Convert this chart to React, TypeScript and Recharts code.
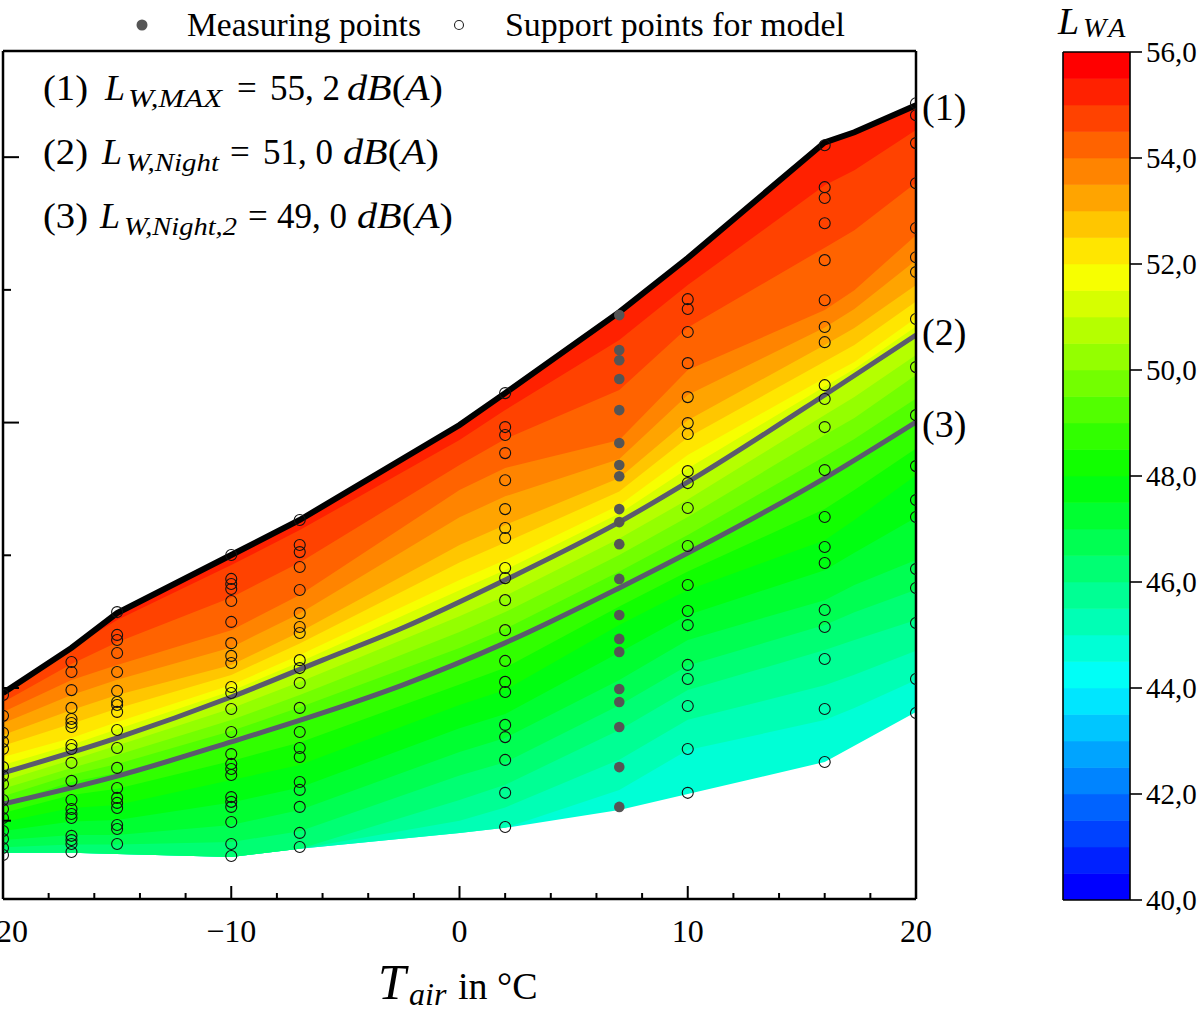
import React from 'react';
import { ComposedChart, Area, Line, Scatter, XAxis, YAxis } from 'recharts';

const FONT = "'Liberation Serif', 'Times New Roman', serif";

// ---- grid of outside temperatures used for the contour field ----
const temps = [-20, -17, -15, -10, -7, 0, 2, 7, 10, 16, 17.3, 20];
const topLimit = [0.981, 1.151, 1.282, 1.501, 1.633, 1.991, 2.111, 2.416, 2.62, 3.056, 3.094, 3.196];
const bottomLimit = [0.379, 0.379, 0.375, 0.363, 0.394, 0.454, 0.473, 0.54, 0.601, 0.721, 0.782, 0.91];
// iso-lines of L_WA in dB(A), read column by column
const iso45 = [0.379, 0.379, 0.375, 0.363, 0.394, 0.454, 0.473, 0.616, 0.766, 0.879, 0.925, 1.03];
const iso45h = [0.379, 0.379, 0.375, 0.363, 0.394, 0.5, 0.55, 0.73, 0.88, 1.01, 1.05, 1.14];
const iso46 = [0.379, 0.379, 0.375, 0.363, 0.394, 0.578, 0.635, 0.842, 0.992, 1.143, 1.181, 1.256];
const iso46h = [0.4, 0.41, 0.41, 0.42, 0.46, 0.67, 0.72, 0.935, 1.085, 1.237, 1.285, 1.37];
const iso47 = [0.427, 0.446, 0.446, 0.484, 0.54, 0.759, 0.812, 1.03, 1.181, 1.331, 1.388, 1.482];
const iso47h = [0.461, 0.497, 0.503, 0.569, 0.625, 0.848, 0.902, 1.134, 1.275, 1.444, 1.51, 1.642];
const iso48 = [0.495, 0.548, 0.559, 0.653, 0.71, 0.936, 0.992, 1.237, 1.369, 1.557, 1.633, 1.802];
const iso48h = [0.529, 0.597, 0.62, 0.725, 0.795, 1.013, 1.076, 1.307, 1.439, 1.674, 1.746, 1.902];
const iso49 = [0.563, 0.646, 0.68, 0.797, 0.879, 1.09, 1.16, 1.377, 1.508, 1.791, 1.859, 2.002];
const iso49h = [0.592, 0.673, 0.714, 0.838, 0.927, 1.151, 1.223, 1.439, 1.576, 1.872, 1.938, 2.091];
const iso50 = [0.62, 0.699, 0.748, 0.879, 0.974, 1.211, 1.286, 1.501, 1.644, 1.953, 2.017, 2.179];
const iso50h = [0.65, 0.729, 0.783, 0.923, 1.023, 1.27, 1.347, 1.563, 1.71, 2.029, 2.096, 2.255];
const iso51 = [0.68, 0.759, 0.818, 0.966, 1.072, 1.328, 1.407, 1.625, 1.776, 2.104, 2.175, 2.33];
const iso51h = [0.71, 0.786, 0.845, 0.989, 1.098, 1.368, 1.445, 1.657, 1.827, 2.136, 2.202, 2.362];
const iso52 = [0.74, 0.812, 0.872, 1.011, 1.124, 1.407, 1.482, 1.689, 1.878, 2.168, 2.228, 2.394];
const iso52h = [0.782, 0.865, 0.923, 1.049, 1.168, 1.473, 1.548, 1.74, 1.944, 2.23, 2.292, 2.456];
const iso53 = [0.823, 0.917, 0.974, 1.087, 1.211, 1.539, 1.614, 1.791, 2.009, 2.292, 2.356, 2.518];
const iso53h = [0.867, 0.974, 1.031, 1.153, 1.281, 1.643, 1.722, 1.863, 2.104, 2.358, 2.428, 2.612];
const iso54 = [0.91, 1.03, 1.087, 1.218, 1.35, 1.746, 1.829, 1.934, 2.198, 2.424, 2.499, 2.706];
const iso54h = [0.946, 1.09, 1.172, 1.341, 1.473, 1.84, 1.938, 2.123, 2.358, 2.659, 2.725, 2.904];
const iso55 = [0.981, 1.151, 1.256, 1.463, 1.595, 1.934, 2.047, 2.311, 2.518, 2.894, 2.951, 3.102];
const isoLevels = [45, 45.5, 46, 46.5, 47, 47.5, 48, 48.5, 49, 49.5, 50, 50.5, 51, 51.5, 52, 52.5, 53, 53.5, 54, 54.5, 55];
const isoLines = [iso45, iso45h, iso46, iso46h, iso47, iso47h, iso48, iso48h, iso49, iso49h, iso50, iso50h, iso51, iso51h, iso52, iso52h, iso53, iso53h, iso54, iso54h, iso55];

// ---- model curves (2) and (3) ----
const curveTemps = [-20, -15, -10, -6, -2.5, 2, 7, 10.5, 16, 20];
const nightCurve = [0.68, 0.812, 0.966, 1.105, 1.226, 1.407, 1.625, 1.802, 2.104, 2.33];
const night2Curve = [0.563, 0.668, 0.797, 0.906, 1.011, 1.17, 1.377, 1.531, 1.791, 2.002];

// ---- points ----
const supportM20 = [0.974, 0.895, 0.831, 0.797, 0.77, 0.702, 0.669, 0.638, 0.578, 0.544, 0.51, 0.461, 0.431, 0.397, 0.371];
const supportM17 = [1.098, 1.06, 0.992, 0.925, 0.883, 0.868, 0.853, 0.785, 0.77, 0.718, 0.65, 0.578, 0.544, 0.525, 0.51, 0.443, 0.427, 0.412, 0.382];
const supportM15 = [1.286, 1.2, 1.181, 1.132, 1.06, 0.989, 0.947, 0.936, 0.91, 0.842, 0.774, 0.699, 0.623, 0.586, 0.567, 0.548, 0.484, 0.469, 0.412];
const supportM10 = [1.501, 1.411, 1.392, 1.373, 1.328, 1.249, 1.169, 1.121, 1.094, 1.004, 0.981, 0.921, 0.834, 0.751, 0.714, 0.695, 0.672, 0.589, 0.571, 0.552, 0.495, 0.412, 0.367];
const supportM7 = [1.633, 1.539, 1.512, 1.456, 1.369, 1.282, 1.23, 1.207, 1.105, 1.075, 1.019, 0.925, 0.834, 0.774, 0.74, 0.646, 0.616, 0.552, 0.454, 0.401];
const supportP2 = [2.111, 1.983, 1.953, 1.885, 1.783, 1.674, 1.603, 1.565, 1.452, 1.414, 1.331, 1.218, 1.102, 1.023, 0.985, 0.861, 0.815, 0.729, 0.605, 0.476];
const supportP10 = [2.465, 2.428, 2.341, 2.224, 2.096, 1.998, 1.957, 1.817, 1.772, 1.678, 1.535, 1.388, 1.29, 1.237, 1.087, 1.034, 0.932, 0.77, 0.605];
const supportP16 = [3.045, 2.887, 2.846, 2.751, 2.612, 2.461, 2.36, 2.303, 2.141, 2.089, 1.983, 1.821, 1.644, 1.531, 1.471, 1.294, 1.23, 1.109, 0.921, 0.721];
const supportP20 = [3.203, 3.158, 3.053, 2.902, 2.733, 2.623, 2.567, 2.39, 2.209, 2.028, 1.836, 1.708, 1.644, 1.448, 1.377, 1.245, 1.034, 0.906];
const supportTemps = [-20, -17, -15, -10, -7, 2, 10, 16, 20];
const supportColumns = [supportM20, supportM17, supportM15, supportM10, supportM7, supportP2, supportP10, supportP16, supportP20];
const measuredTemp = 7;
const measured7 = [2.405, 2.273, 2.235, 2.164, 2.047, 1.923, 1.84, 1.798, 1.674, 1.625, 1.542, 1.411, 1.275, 1.185, 1.136, 0.996, 0.947, 0.853, 0.702, 0.552];

// ---- axes ----
const xTicks = [-20, -18, -16, -14, -12, -10, -8, -6, -4, -2, 0, 2, 4, 6, 8, 10, 12, 14, 16, 18, 20];
const yTicks = [0.5, 1, 1.5, 2, 2.5, 3];
const yDomain = [0.205, 3.4];

// ---- colour bar ----
const barSteps = [40, 40.5, 41, 41.5, 42, 42.5, 43, 43.5, 44, 44.5, 45, 45.5, 46, 46.5, 47, 47.5, 48, 48.5, 49, 49.5, 50, 50.5, 51, 51.5, 52, 52.5, 53, 53.5, 54, 54.5, 55, 55.5];
const barTicks = [40, 42, 44, 46, 48, 50, 52, 54, 56];
const barFrame = [{ x: 0 }, { x: 1 }];

const colorFor = (db: number) => {
  const h = Math.max(0, Math.min(240, 240 * (1 - (db - 40.25) / 15.5)));
  return `hsl(${h.toFixed(1)}, 100%, 50%)`;
};

const rows = temps.map((T, i) => {
  const r: any = { T, top: topLimit[i], bottom: bottomLimit[i] };
  isoLevels.forEach((L, k) => {
    r['l' + L] = isoLines[k][i];
  });
  return r;
});
const nightRows = curveTemps.map((T, i) => ({ T, v: nightCurve[i] }));
const night2Rows = curveTemps.map((T, i) => ({ T, v: night2Curve[i] }));
const supportPoints = supportTemps.flatMap((T, c) => supportColumns[c].map((v) => ({ T, v })));
const measuredPoints = measured7.map((v) => ({ T: measuredTemp, v }));

const fmtMinus = (v: number) => (v < 0 ? `\u2212${-v}` : `${v}`);

const XTick = (props: any) => {
  const { x, y, payload } = props;
  const v = payload.value;
  const major = v % 10 === 0;
  return (
    <g>
      <line x1={x} x2={x} y1={y} y2={y - (major ? 13 : 6)} stroke="#000" strokeWidth={2} />
      {major && (
        <text x={x} y={y + 43} textAnchor="middle" fontSize={32} fontFamily={FONT} fill="#000">
          {fmtMinus(v)}
        </text>
      )}
    </g>
  );
};

const YTick = (props: any) => {
  const { x, y, payload } = props;
  const major = Number.isInteger(payload.value);
  return <line x1={x} x2={x + (major ? 16 : 8)} y1={y} y2={y} stroke="#000" strokeWidth={2} />;
};

const OpenCircle = (p: any) => {
  const r = 5.5;
  if (p.payload && p.payload.T >= 20) {
    // the plot frame hides the outer half of the boundary column
    return <path d={`M${p.cx},${p.cy - r} A${r},${r} 0 0 0 ${p.cx},${p.cy + r}`} fill="none" stroke="#111" strokeWidth={1.1} />;
  }
  return <circle cx={p.cx} cy={p.cy} r={r} fill="none" stroke="#111" strokeWidth={1.1} />;
};
const FilledCircle = (p: any) => <circle cx={p.cx} cy={p.cy} r={5.3} fill="#555555" stroke="none" />;

const T = (props: any) => <text fontFamily={FONT} fill="#000" fontSize={35} {...props} />;

const MathRow = ({ y, num, lx, sub, subX, subW, eqX, val, valX, unitX }: any) => (
  <g>
    <T x={43} y={y} textLength={45} lengthAdjust="spacingAndGlyphs">{num}</T>
    <T x={lx} y={y} fontStyle="italic" fontSize={36}>L</T>
    <T x={subX} y={y + 7} fontStyle="italic" fontSize={26} textLength={subW} lengthAdjust="spacingAndGlyphs">{sub}</T>
    <T x={eqX} y={y}>=</T>
    <T x={valX} y={y} textLength={70} lengthAdjust="spacingAndGlyphs">{val}</T>
    <T x={unitX} y={y} textLength={96} lengthAdjust="spacingAndGlyphs">
      <tspan fontStyle="italic">dB</tspan>
      <tspan>(</tspan>
      <tspan fontStyle="italic">A</tspan>
      <tspan>)</tspan>
    </T>
  </g>
);

export default function App() {
  return (
    <div style={{ position: 'absolute', left: 0, top: 0, width: 1200, height: 1013, overflow: 'hidden', background: '#fff' }}>
      <div style={{ position: 'absolute', left: 0, top: 0 }}>
        <ComposedChart width={1200} height={1013} margin={{ top: 50, right: 283, bottom: 54, left: 2 }}>
          <Area
            data={rows}
            dataKey={(r: any) => [r.bottom, r.top]}
            type="linear"
            stroke="none"
            fill={colorFor(44.75)}
            fillOpacity={1}
            isAnimationActive={false}
            dot={false}
            activeDot={false}
          />
          {isoLevels.map((L) => (
            <Area
              key={L}
              data={rows}
              dataKey={(r: any) => [r['l' + L], r.top]}
              type="linear"
              stroke="none"
              fill={colorFor(L + 0.25)}
              fillOpacity={1}
              isAnimationActive={false}
              dot={false}
              activeDot={false}
            />
          ))}
          <Line data={night2Rows} dataKey="v" type="monotone" stroke="#5b5a6e" strokeWidth={5} dot={false} isAnimationActive={false} />
          <Line data={nightRows} dataKey="v" type="monotone" stroke="#5b5a6e" strokeWidth={5} dot={false} isAnimationActive={false} />
          <Scatter data={supportPoints} dataKey="v" shape={OpenCircle} isAnimationActive={false} />
          <Scatter data={measuredPoints} dataKey="v" shape={FilledCircle} isAnimationActive={false} />
          <Line data={rows} dataKey="top" type="linear" stroke="#000" strokeWidth={6} dot={false} isAnimationActive={false} />
          <XAxis
            dataKey="T"
            type="number"
            domain={[-20, 20]}
            allowDataOverflow
            ticks={xTicks}
            interval={0}
            height={60}
            tickSize={0}
            tickMargin={0}
            tickLine={false}
            tick={<XTick />}
            axisLine={{ stroke: '#000', strokeWidth: 2.5 }}
          />
          <XAxis xAxisId="top" orientation="top" type="number" domain={[-20, 20]} allowDataOverflow height={1} tick={false} tickLine={false} axisLine={{ stroke: '#000', strokeWidth: 2.5 }} />
          <YAxis
            type="number"
            domain={yDomain}
            allowDataOverflow
            ticks={yTicks}
            interval={0}
            width={1}
            tickSize={0}
            tickMargin={0}
            tickLine={false}
            tick={<YTick />}
            axisLine={{ stroke: '#000', strokeWidth: 2.5 }}
          />
          <YAxis yAxisId="right" orientation="right" type="number" domain={yDomain} allowDataOverflow width={1} tick={false} tickLine={false} axisLine={{ stroke: '#000', strokeWidth: 2.5 }} />
        </ComposedChart>
      </div>

      <div style={{ position: 'absolute', left: 1062, top: 0 }}>
        <ComposedChart width={138} height={960} margin={{ top: 51, right: 0, bottom: 59, left: 0 }} data={barFrame}>
          {barSteps.map((s) => (
            <Area
              key={s}
              dataKey={() => [s, s + 0.5]}
              type="linear"
              stroke={colorFor(s + 0.25)}
              strokeWidth={0.6}
              fill={colorFor(s + 0.25)}
              fillOpacity={1}
              isAnimationActive={false}
              dot={false}
              activeDot={false}
            />
          ))}
          <XAxis dataKey="x" type="number" domain={[0, 1]} height={1} tick={false} tickLine={false} axisLine={{ stroke: '#000', strokeWidth: 1.6 }} />
          <XAxis xAxisId="top" orientation="top" type="number" domain={[0, 1]} height={1} tick={false} tickLine={false} axisLine={{ stroke: '#000', strokeWidth: 1.6 }} />
          <YAxis yAxisId="left" orientation="left" type="number" domain={[40, 56]} width={1} tick={false} tickLine={false} axisLine={{ stroke: '#000', strokeWidth: 1.6 }} />
          <YAxis
            orientation="right"
            type="number"
            domain={[40, 56]}
            allowDataOverflow
            ticks={barTicks}
            interval={0}
            width={70}
            tickSize={12}
            tickMargin={4}
            axisLine={{ stroke: '#000', strokeWidth: 1.6 }}
            tickLine={{ stroke: '#000', strokeWidth: 1.6 }}
            tick={{ fontSize: 29, fill: '#000', fontFamily: FONT }}
            tickFormatter={(v: number) => v.toFixed(1).replace('.', ',')}
          />
        </ComposedChart>
      </div>

      <svg width={1200} height={1013} style={{ position: 'absolute', left: 0, top: 0, pointerEvents: 'none' }}>
        {/* legend */}
        <circle cx={142} cy={25} r={5.5} fill="#555555" />
        <T x={187} y={36} fontSize={34} textLength={234} lengthAdjust="spacingAndGlyphs">Measuring points</T>
        <circle cx={459} cy={25} r={4.5} fill="none" stroke="#222" strokeWidth={1.1} />
        <T x={505} y={36} fontSize={34} textLength={340} lengthAdjust="spacingAndGlyphs">Support points for model</T>

        {/* annotations */}
        <MathRow y={100} num="(1)" lx={105} sub="W,MAX" subX={128} subW={94} eqX={237} val="55, 2" valX={270} unitX={347} />
        <MathRow y={164} num="(2)" lx={102} sub="W,Night" subX={126} subW={93} eqX={230} val="51, 0" valX={263} unitX={343} />
        <MathRow y={228} num="(3)" lx={100} sub="W,Night,2" subX={124} subW={113} eqX={248} val="49, 0" valX={277} unitX={357} />

        {/* curve labels */}
        <T x={922} y={120} fontSize={38}>(1)</T>
        <T x={922} y={345} fontSize={38}>(2)</T>
        <T x={922} y={437} fontSize={38}>(3)</T>

        {/* x-axis title */}
        <T x={378} y={999} fontStyle="italic" fontSize={50}>T</T>
        <T x={409} y={1005} fontStyle="italic" fontSize={32}>air</T>
        <T x={458} y={999} fontSize={38}>in °C</T>

        {/* colour bar title */}
        <T x={1058} y={34} fontStyle="italic" fontSize={38}>L</T>
        <T x={1083} y={37} fontStyle="italic" fontSize={28} letterSpacing={4}>WA</T>
      </svg>
    </div>
  );
}
